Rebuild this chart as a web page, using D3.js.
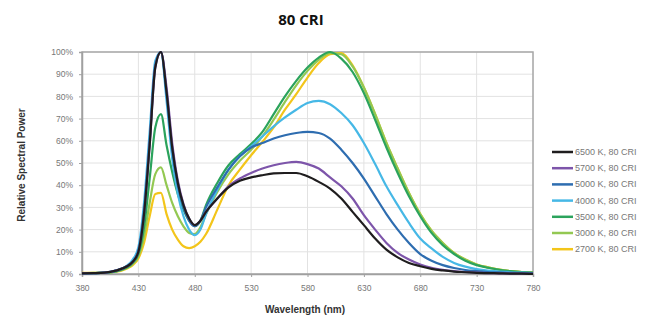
<!DOCTYPE html>
<html><head><meta charset="utf-8">
<script src="https://cdn.jsdelivr.net/npm/d3@7"></script>
<style>body{margin:0;background:#fff;}svg{display:block;}</style>
</head><body>
<svg id="chart" width="667" height="318"></svg>
<script>
const wavelengths = [380,390,400,410,420,425,430,435,440,445,450,455,460,465,470,475,480,485,490,500,510,520,530,540,550,560,570,580,590,600,610,620,630,640,650,660,670,680,690,700,710,720,730,740,750,760,770,780];
const s6500 = [0.3,0.4,0.6,1.5,3.5,5.5,10,27,58,93,100,82,57,41,31,25,22,24,28,34,39,42,43.5,44.5,45.3,45.5,45.5,44,41.5,38.5,34,28,22,16,11,7.5,5,3.5,2.3,1.6,1.1,0.8,0.5,0.4,0.3,0.2,0.2,0.1];
const s5700 = [0.3,0.4,0.6,1.5,3.5,5.5,10,27,58,93,100,84,59,42,31.5,25,22,24,28,34,39.5,43,45.5,47.5,49,50,50.5,49.5,47.5,43.5,39.5,34,26.5,20,14,9.5,6.5,4.3,2.8,1.9,1.3,0.9,0.6,0.4,0.3,0.2,0.2,0.1];
const s5000 = [0.3,0.4,0.6,1.5,3.5,5.5,10.5,28,60,94,100,81,56,40,30,24,21.5,24,30,39,47,53,57,59,61,62.5,63.5,64,63.5,61,56,50,43,35,27,20,14,9,6,4,2.7,1.8,1.3,0.9,0.7,0.5,0.4,0.3];
const s4000 = [0.3,0.4,0.6,1.6,3.8,6.5,12,32,64,96,100,78,52,36,26,20,17.5,20,27,38,47,53,57.5,62,66.5,70.5,74,77,78,76.5,72.5,67,59,49.5,39.5,31,23,16,11.5,7.7,5,3.3,2.2,1.5,1.1,0.8,0.6,0.4];
const s3500 = [0.3,0.4,0.6,1.2,3,5,9,21,43,66,72,58,46,36,29,24,21.5,24,31,41,49,54,58.5,64,72,80,87,93,97.5,100,97,91,81.5,69.5,57,45.5,35,26,18.5,13,9,6,4,2.8,1.9,1.3,0.9,0.6];
const s3000 = [0.4,0.5,0.6,1.1,2.8,4.5,8,17,32,45,48,40,32,26,21.5,18.5,18,21,27,37,45,51,56,62,69.5,77.5,85,91.5,96.5,99.5,99,93.5,84,72,59,47.5,36.5,27,19.5,14,9.5,6.5,4.3,3,2,1.3,0.9,0.6];
const s2700 = [0.5,0.5,0.6,1,2.5,4,7,14,26,36,36.5,27,20,15.5,12.5,11.7,12.5,14.5,18,29,40,47,53.5,59.5,66,74,81,88.5,95,99,99.5,94,84,72,59,47.5,36.5,27,19.5,14,9.5,6.5,4.3,3,2,1.3,0.9,0.6];
const seriesNames = ["6500 K, 80 CRI","5700 K, 80 CRI","5000 K, 80 CRI","4000 K, 80 CRI","3500 K, 80 CRI","3000 K, 80 CRI","2700 K, 80 CRI"];
const seriesValues = [s6500,s5700,s5000,s4000,s3500,s3000,s2700];
const seriesColors = ["#1f1d1e","#7d55aa","#2e6db0","#46b8e6","#2ba35c","#93c852","#f3c51a"];
const xTicks = [380,430,480,530,580,630,680,730,780];
const yTicks = [0,10,20,30,40,50,60,70,80,90,100];

const svg = d3.select("#chart");
const L=82, R=533, T=52, B=274;
const x = d3.scaleLinear().domain([380,780]).range([L,R]);
const y = d3.scaleLinear().domain([0,100]).range([B,T]);

// grid
svg.append("g").selectAll("line").data(yTicks).join("line")
  .attr("x1",L).attr("x2",R).attr("y1",d=>y(d)).attr("y2",d=>y(d))
  .attr("stroke","#e2e2e2").attr("stroke-width",1);
svg.append("g").selectAll("line").data(xTicks).join("line")
  .attr("y1",T).attr("y2",B).attr("x1",d=>x(d)).attr("x2",d=>x(d))
  .attr("stroke","#e2e2e2").attr("stroke-width",1);

// border
svg.append("rect").attr("x",L).attr("y",T).attr("width",R-L).attr("height",B-T)
  .attr("fill","none").attr("stroke","#a8a8a8").attr("stroke-width",1.5);

// axes
const xAxis = svg.append("g").attr("transform",`translate(0,${B})`)
  .call(d3.axisBottom(x).tickValues(xTicks).tickSize(3).tickPadding(8));
const yAxis = svg.append("g").attr("transform",`translate(${L},0)`)
  .call(d3.axisLeft(y).tickValues(yTicks).tickSize(3).tickPadding(6).tickFormat(d=>d+"%"));
[xAxis,yAxis].forEach(g=>{
  g.select(".domain").attr("stroke","#a0a0a0").attr("stroke-width",1.5);
  g.selectAll(".tick line").attr("stroke","#a0a0a0");
  g.selectAll("text").attr("fill","#777").style("font-family","Liberation Sans, Arial, sans-serif").style("font-size","8.5px");
});

// lines
const line = d3.line().x((d,i)=>x(wavelengths[i])).y(d=>y(d)).curve(d3.curveMonotoneX);
const order = [6,5,4,3,2,1,0];
svg.append("g").selectAll("path").data(order).join("path")
  .attr("d",i=>line(seriesValues[i]))
  .attr("fill","none").attr("stroke",i=>seriesColors[i]).attr("stroke-width",2.2)
  .attr("stroke-linejoin","round");

// title
svg.append("text").attr("x",301).attr("y",25).attr("text-anchor","middle")
  .style("font-family","Open Sans, sans-serif").style("font-weight","bold").style("font-size","15px")
  .attr("fill","#111").text("80 CRI");

// axis titles
svg.append("text").attr("transform","translate(25,165) rotate(-90)").attr("text-anchor","middle")
  .style("font-family","Liberation Sans, Arial, sans-serif").style("font-weight","bold").style("font-size","10px")
  .attr("fill","#333").text("Relative Spectral Power");
svg.append("text").attr("x",305).attr("y",313).attr("text-anchor","middle")
  .style("font-family","Liberation Sans, Arial, sans-serif").style("font-weight","bold").style("font-size","10px")
  .attr("fill","#333").text("Wavelength (nm)");

// legend
const lg = svg.append("g").selectAll("g").data(seriesNames).join("g")
  .attr("transform",(d,i)=>`translate(552,${152+i*16.2})`);
lg.append("line").attr("x1",0).attr("x2",21).attr("y1",0).attr("y2",0)
  .attr("stroke",(d,i)=>seriesColors[i]).attr("stroke-width",2.5);
lg.append("text").attr("x",23).attr("y",3).text(d=>d)
  .style("font-family","Liberation Sans, Arial, sans-serif").style("font-size","9px").attr("fill","#777");
</script>
</body></html>
